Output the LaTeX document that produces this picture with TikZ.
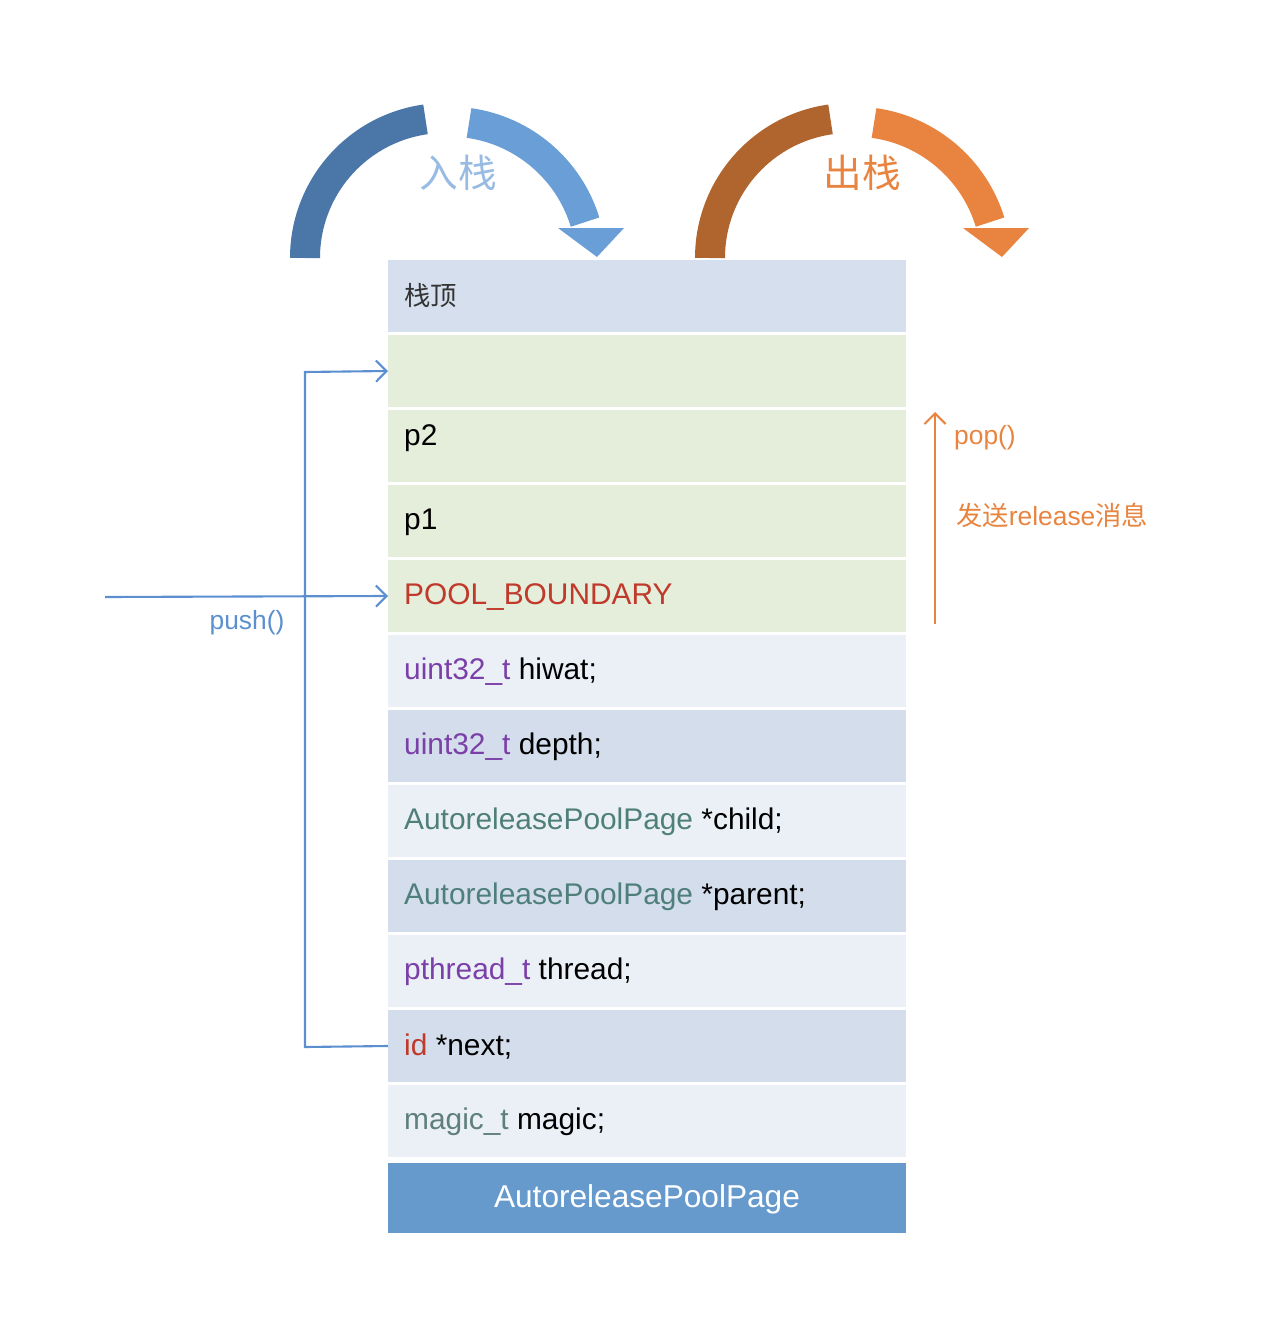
\documentclass[tikz,border=0pt]{standalone}
\usepackage{fontspec}
\setmainfont{Liberation Sans}
\newfontfamily\cjk{Noto Sans CJK SC}
\usetikzlibrary{arrows.meta}
\definecolor{rowtop}{HTML}{D5DFED}
\definecolor{rowgreen}{HTML}{E4EEDB}
\definecolor{rowlight}{HTML}{EBF0F7}
\definecolor{rowdark}{HTML}{D3DDEB}
\definecolor{rowblue}{HTML}{6699CC}
\definecolor{tpurple}{HTML}{7B3FA8}
\definecolor{tteal}{HTML}{4F7F7A}
\definecolor{tred}{HTML}{C0392B}
\definecolor{tgrey}{HTML}{5F7F7F}
\definecolor{lineblue}{HTML}{5B8FD0}
\definecolor{orangeA}{HTML}{E8843F}
\definecolor{orangeB}{HTML}{B0652F}
\definecolor{blueA}{HTML}{6A9ED6}
\definecolor{blueB}{HTML}{4A77A8}
\begin{document}
\begin{tikzpicture}[x=0.02cm,y=-0.02cm,
  row/.style={minimum width=10.36cm,minimum height=1.44cm,inner sep=0pt,outer sep=0pt,anchor=north west},
  lbl/.style={anchor=west,font=\fontsize{17}{19}\selectfont},
  conn/.style={lineblue,line width=1.2pt},
  head/.style={-{Straight Barb[length=6pt,width=12pt]}}]
\useasboundingbox (0,0) rectangle (1284,1332);
% rows
\node[row,fill=rowtop] (r0) at (388,260) {};
\node[row,fill=rowgreen] (r1) at (388,335) {};
\node[row,fill=rowgreen] (r2) at (388,410) {};
\node[row,fill=rowgreen] (r3) at (388,485) {};
\node[row,fill=rowgreen] (r4) at (388,560) {};
\node[row,fill=rowlight] (r5) at (388,635) {};
\node[row,fill=rowdark] (r6) at (388,710) {};
\node[row,fill=rowlight] (r7) at (388,785) {};
\node[row,fill=rowdark] (r8) at (388,860) {};
\node[row,fill=rowlight] (r9) at (388,935) {};
\node[row,fill=rowdark] (r10) at (388,1010) {};
\node[row,fill=rowlight] (r11) at (388,1085) {};
\node[row,fill=rowblue,minimum height=1.4cm] (r12) at (388,1163) {};
% labels
\node[lbl,font=\cjk\fontsize{15}{18}\selectfont,text=black!80] at (398,296) {栈顶};
\node[lbl] at (398,438) {p2};
\node[lbl] at (398,522) {p1};
\node[lbl,text=tred] at (398,597) {POOL\_BOUNDARY};
\node[lbl] at (398,672) {\textcolor{tpurple}{uint32\_t} hiwat;};
\node[lbl] at (398,747) {\textcolor{tpurple}{uint32\_t} depth;};
\node[lbl] at (398,822) {\textcolor{tteal}{AutoreleasePoolPage} *child;};
\node[lbl] at (398,897) {\textcolor{tteal}{AutoreleasePoolPage} *parent;};
\node[lbl] at (398,972) {\textcolor{tpurple}{pthread\_t} thread;};
\node[lbl] at (398,1047) {\textcolor{tred}{id} *next;};
\node[lbl] at (398,1122) {\textcolor{tgrey}{magic\_t} magic;};
\node[font=\fontsize{18}{21}\selectfont,text=white] at (647,1199) {AutoreleasePoolPage};
% push
\coordinate (pstart) at (105,597);
\coordinate (c1) at (305,1047);
\coordinate (c2) at (305,372);
\draw[conn,head] (pstart) -- (r4.west);
\draw[conn,head] (r10.west) -- (c1) -- (c2) -- (r1.west);
\node[text=lineblue,font=\fontsize{15}{18}\selectfont] (push) at (247,623) {push()};
% pop
\coordinate (pb) at (935,624);
\coordinate (pt) at (935,412);
\draw[orangeA,line width=1.2pt,head] (pb) -- (pt);
\node[text=orangeA,font=\fontsize{15}{18}\selectfont,anchor=west] (pop) at (948,438) {pop()};
\node[text=orangeA,font=\fontsize{15}{18}\selectfont,anchor=west] (rel) at (950,515) {{\cjk 发送}release{\cjk 消息}};
% curved arrows
\foreach \dx/\ca/\cb in {0/blueB/blueA,405/orangeB/orangeA}{
  \begin{scope}[xshift=\dx*0.02cm]
  \draw[\ca,line width=0.6cm] (305,258) arc[start angle=180,end angle=262,radius=140];
  \draw[\cb,line width=0.6cm] (469,123) arc[start angle=278,end angle=343,radius=142];
  \fill[\cb] (558,228) -- (624,228) -- (597,257) -- cycle;
  \end{scope}}
\node[text=blueA!70!white,font=\cjk\fontsize{22}{26}\selectfont] (in) at (458,173) {入栈};
\node[text=orangeA,font=\cjk\fontsize{22}{26}\selectfont] (out) at (862,173) {出栈};
\end{tikzpicture}
\end{document}
